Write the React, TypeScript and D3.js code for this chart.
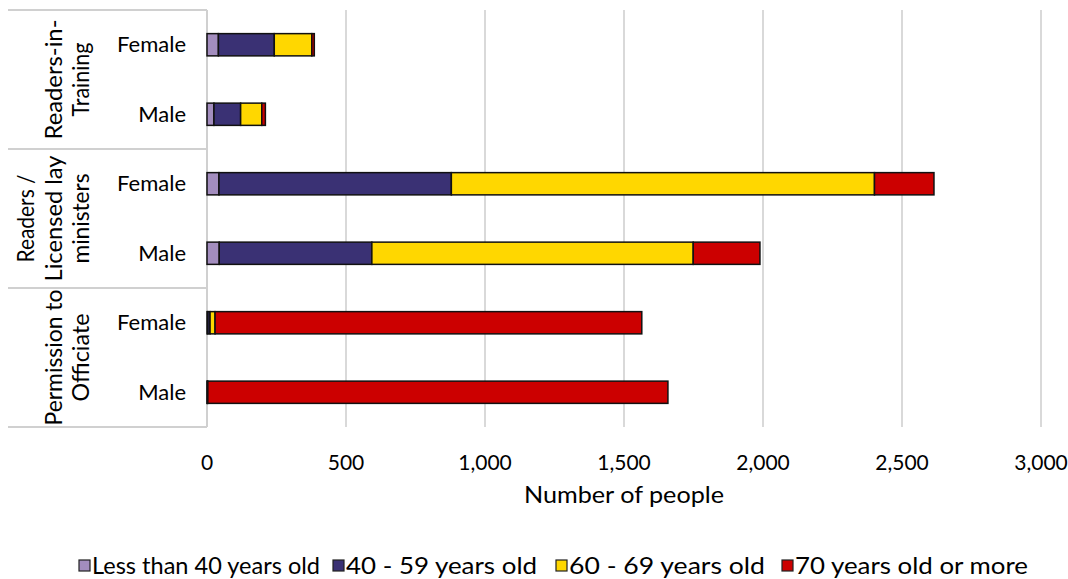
import React from "react";
import * as d3 from "d3";

const groups = ["Readers-in-Training", "Readers / Licensed lay ministers", "Permission to Officiate"];
const groupLines = [["Readers-in-", "Training"], ["Readers /", "Licensed lay", "ministers"], ["Permission to", "Officiate"]];
const groupLineLens = [[120, 74], [88, 126, 90], [136, 88]];
const genders = ["Female", "Male"];
const seriesNames = ["Less than 40 years old", "40 - 59 years old", "60 - 69 years old", "70 years old or more"];
const seriesColors = ["#A38DBE", "#3A3174", "#FFD700", "#CC0000"];

const under40 = [41, 25, 43, 44, 3, 0];
const age40to59 = [201, 96, 836, 549, 8, 1];
const age60to69 = [135, 76, 1522, 1156, 18, 2];
const age70plus = [9, 13, 214, 240, 1535, 1655];

const xTicks = [0, 500, 1000, 1500, 2000, 2500, 3000];

const W = 1068, H = 579;
const plotLeft = 207, plotRight = 1041, plotTop = 10, plotBottom = 427;
const FONT = "Lato, 'Open Sans', sans-serif";

export default function App() {
  const x = d3.scaleLinear().domain([0, 3000]).range([plotLeft, plotRight]);
  const rowKeys = groups.flatMap((g) => genders.map((s) => g + "|" + s));
  const y = d3.scaleBand().domain(rowKeys).range([plotTop, plotBottom]).paddingInner(0.68).paddingOuter(0.34);
  const rows = rowKeys.map((k, i) => ({
    key: k,
    gender: k.split("|")[1],
    vals: [under40[i], age40to59[i], age60to69[i], age70plus[i]],
  }));
  const stackGen = d3.stack<any>().keys(["0", "1", "2", "3"]).value((d: any, key: string) => d.vals[+key]);
  const stacked = stackGen(rows as any);
  const rowH = (plotBottom - plotTop) / rowKeys.length;

  const legendX = [79, 333, 556, 782];
  const legendLen = [228, 191, 196, 233];

  return (
    <svg width={W} height={H} style={{ position: "absolute", left: 0, top: 0, background: "#fff" }} fontFamily={FONT}>
      {xTicks.filter((t) => t > 0).map((t) => (
        <line key={t} x1={x(t)} x2={x(t)} y1={plotTop} y2={plotBottom} stroke="#d9d9d9" strokeWidth={2} />
      ))}
      <line x1={plotLeft} x2={plotLeft} y1={plotTop} y2={plotBottom} stroke="#d0d0d0" strokeWidth={2} />
      {[0, 1, 2, 3].map((i) => (
        <line key={i} x1={8} x2={plotLeft} y1={plotTop + i * 2 * rowH} y2={plotTop + i * 2 * rowH} stroke="#d0d0d0" strokeWidth={2} />
      ))}
      {stacked.map((layer, si) => (
        <g key={si}>
          {layer.map((d: any, ri: number) => {
            const w = x(d[1]) - x(d[0]);
            if (w <= 0) return null;
            return (
              <rect key={ri} x={x(d[0])} y={y(rowKeys[ri])} width={w} height={y.bandwidth()}
                fill={seriesColors[si]} stroke="#111" strokeWidth={1.5} />
            );
          })}
        </g>
      ))}
      {rows.map((r) => (
        <text key={r.key} x={186} y={(y(r.key) as number) + y.bandwidth() / 2} dy="0.35em" textAnchor="end" fontSize={22} fill="#000">
          {r.gender}
        </text>
      ))}
      {groupLines.map((lines, gi) => {
        const cy = plotTop + gi * 2 * rowH + rowH;
        const n = lines.length;
        return lines.map((ln, li) => {
          const cx = 89 - (n - 1 - li) * 27.5;
          return (
            <text key={gi + "-" + li} transform={`translate(${cx},${cy}) rotate(-90)`} textAnchor="middle" fontSize={23} fill="#000"
              textLength={groupLineLens[gi][li]} lengthAdjust="spacingAndGlyphs">
              {ln}
            </text>
          );
        });
      })}
      {xTicks.map((t) => (
        <text key={t} x={x(t)} y={463} dy="0.35em" textAnchor="middle" fontSize={21} fill="#000">
          {d3.format(",")(t)}
        </text>
      ))}
      <text x={(plotLeft + plotRight) / 2} y={495} dy="0.35em" textAnchor="middle" fontSize={24} fill="#000"
        textLength={200} lengthAdjust="spacingAndGlyphs">
        Number of people
      </text>
      {seriesNames.map((s, i) => (
        <g key={s}>
          <rect x={legendX[i]} y={560} width={11} height={11} fill={seriesColors[i]} stroke="#222" strokeWidth={1.2} />
          <text x={legendX[i] + 13} y={566} dy="0.35em" fontSize={24} fill="#000"
            textLength={legendLen[i]} lengthAdjust="spacingAndGlyphs">{s}</text>
        </g>
      ))}
    </svg>
  );
}
